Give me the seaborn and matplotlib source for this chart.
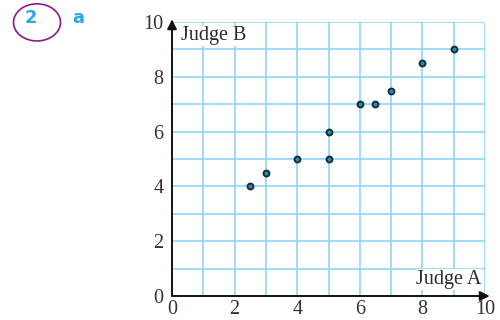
import matplotlib
matplotlib.use("Agg")
import matplotlib.pyplot as plt
import seaborn as sns
import pandas as pd
from matplotlib.patches import Ellipse

judge_a = [2.5, 3, 4, 5, 5, 6, 6.5, 7, 8, 9]
judge_b = [4, 4.5, 5, 5, 6, 7, 7, 7.5, 8.5, 9]
ticks = [0, 2, 4, 6, 8, 10]

df = pd.DataFrame({"Judge A": judge_a, "Judge B": judge_b})

sns.set_style("white")
plt.rcParams['font.family'] = ['Liberation Serif', 'DejaVu Serif']

fig = plt.figure(figsize=(5, 3.2), dpi=100)
ax = fig.add_axes([0.344, 0.075, 0.626, 0.856])

grid_c = "#8fd7f5"
for v in range(0, 11):
    ax.axvline(v, color=grid_c, lw=1.2, zorder=0)
    ax.axhline(v, color=grid_c, lw=1.2, zorder=0)

sns.scatterplot(data=df, x="Judge A", y="Judge B", ax=ax, s=18,
                color="#1593c9", edgecolor="#1d2b33", linewidth=1.4, zorder=3)

ax.set_xlim(0, 10)
ax.set_ylim(0, 10)
ax.set_xticks(ticks)
ax.set_yticks(ticks)
ax.set_xticklabels([str(t) for t in ticks])
ax.set_yticklabels([str(t) for t in ticks])
ax.tick_params(length=0, labelsize=14.5, colors="#3b302a")
ax.tick_params(axis="y", pad=6)
ax.tick_params(axis="x", pad=3)
ax.set_xlabel("")
ax.set_ylabel("")
for s in ax.spines.values():
    s.set_visible(False)

ax.annotate("", xy=(10.15, 0), xytext=(0, 0), xycoords="data",
            arrowprops=dict(arrowstyle="-|>", color="#111111", lw=1.4,
                            mutation_scale=14, shrinkA=0, shrinkB=0),
            annotation_clip=False, zorder=4)
ax.annotate("", xy=(0, 10.1), xytext=(0, 0), xycoords="data",
            arrowprops=dict(arrowstyle="-|>", color="#111111", lw=1.4,
                            mutation_scale=14, shrinkA=0, shrinkB=0),
            annotation_clip=False, zorder=4)

ax.text(0.3, 9.5, "Judge B", fontsize=14.5, color="#2e2a28", va="center", ha="left",
        bbox=dict(facecolor="white", edgecolor="none", pad=0.5), zorder=5)
ax.text(9.9, 0.6, "Judge A", fontsize=14.5, color="#2e2a28", va="center", ha="right",
        bbox=dict(facecolor="white", edgecolor="none", pad=0.5), zorder=5)

fig.text(0.062, 0.945, "2", fontsize=13, fontweight="bold", color="#29a9e8",
         family=["DejaVu Sans"], ha="center", va="center")
fig.text(0.156, 0.945, "a", fontsize=13, fontweight="bold", color="#29a9e8",
         family=["DejaVu Sans"], ha="center", va="center")
fig.patches.append(Ellipse((0.074, 0.93), 0.094, 0.116, transform=fig.transFigure,
                           fill=False, edgecolor="#8b1a8b", lw=1.2))

fig.savefig("out.png", dpi=100)
